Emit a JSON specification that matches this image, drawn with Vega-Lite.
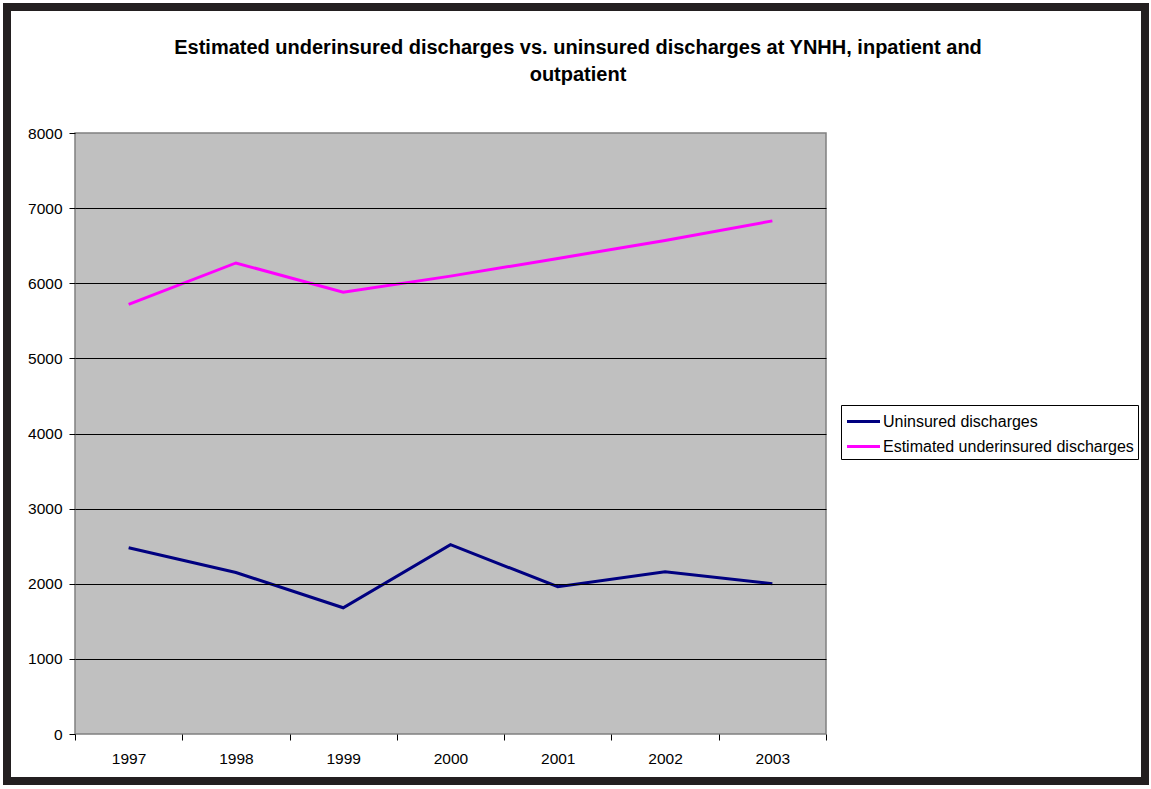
{
  "$schema": "https://vega.github.io/schema/vega-lite/v6.json",
  "width": 1138,
  "height": 774,
  "autosize": "none",
  "padding": {"left": 7, "top": 7, "right": 6, "bottom": 8},
  "background": "white",
  "title": {
    "text": ["Estimated underinsured discharges vs. uninsured discharges at YNHH, inpatient and", "outpatient"],
    "font": "Liberation Sans",
    "fontSize": 20,
    "fontWeight": "bold",
    "color": "black",
    "anchor": "middle",
    "frame": "group",
    "dx": 2,
    "dy": 82,
    "lineHeight": 27
  },
  "layer": [
    {
      "data": {"values": [{"plot": "area"}]},
      "mark": {"type": "rect", "fill": "#C0C0C0", "stroke": "#808080", "strokeWidth": 1.5},
      "encoding": {
        "x": {"datum": 1996.5, "type": "quantitative"},
        "x2": {"datum": 2003.5},
        "y": {"datum": 0, "type": "quantitative"},
        "y2": {"datum": 8000}
      }
    },
    {
      "data": {
        "values": [
          {"year": 1997, "series": "Uninsured discharges", "value": 2480},
          {"year": 1998, "series": "Uninsured discharges", "value": 2150},
          {"year": 1999, "series": "Uninsured discharges", "value": 1680},
          {"year": 2000, "series": "Uninsured discharges", "value": 2520},
          {"year": 2001, "series": "Uninsured discharges", "value": 1960},
          {"year": 2002, "series": "Uninsured discharges", "value": 2160},
          {"year": 2003, "series": "Uninsured discharges", "value": 2000},
          {"year": 1997, "series": "Estimated underinsured discharges", "value": 5720},
          {"year": 1998, "series": "Estimated underinsured discharges", "value": 6270},
          {"year": 1999, "series": "Estimated underinsured discharges", "value": 5880},
          {"year": 2000, "series": "Estimated underinsured discharges", "value": 6095},
          {"year": 2001, "series": "Estimated underinsured discharges", "value": 6330},
          {"year": 2002, "series": "Estimated underinsured discharges", "value": 6570},
          {"year": 2003, "series": "Estimated underinsured discharges", "value": 6830}
        ]
      },
      "mark": {"type": "line", "strokeWidth": 3},
      "encoding": {
        "x": {"field": "year", "type": "quantitative"},
        "y": {"field": "value", "type": "quantitative"},
        "color": {
          "field": "series",
          "type": "nominal",
          "scale": {
            "domain": ["Uninsured discharges", "Estimated underinsured discharges"],
            "range": ["#000080", "#FF00FF"]
          },
          "legend": {
            "title": null,
            "orient": "none",
            "legendX": 834,
            "legendY": 398,
            "symbolType": "M-1.5,0H1.5",
            "symbolSize": 484,
            "symbolStrokeWidth": 3,
            "symbolOffset": 6,
            "labelFontSize": 16,
            "labelColor": "black",
            "labelOffset": 7,
            "labelLimit": 400,
            "padding": 4,
            "rowPadding": 4,
            "strokeColor": "black",
            "fillColor": "white"
          }
        }
      }
    }
  ],
  "encoding": {
    "x": {
      "type": "quantitative",
      "scale": {"domain": [1996.5, 2003.5], "range": [68, 819], "nice": false, "zero": false},
      "axis": {
        "title": null,
        "values": [1996.5, 1997.5, 1998.5, 1999.5, 2000.5, 2001.5, 2002.5, 2003.5],
        "labelExpr": "datum.value < 2003 ? format(datum.value + 0.5, 'd') : ''",
        "labelOffset": 53.6,
        "labelFlush": false,
        "labelOverlap": false,
        "offset": -47,
        "zindex": 1,
        "domain": false,
        "grid": false,
        "tickSize": 6,
        "tickColor": "black",
        "labelPadding": 11,
        "labelFontSize": 15.5,
        "labelColor": "black"
      }
    },
    "y": {
      "type": "quantitative",
      "scale": {"domain": [0, 8000], "range": [727, 126], "nice": false, "zero": false},
      "axis": {
        "title": null,
        "values": [0, 1000, 2000, 3000, 4000, 5000, 6000, 7000, 8000],
        "format": "d",
        "offset": -68,
        "zindex": 1,
        "domain": false,
        "tickSize": 6,
        "tickColor": "black",
        "labelPadding": 7,
        "labelFontSize": 15.5,
        "labelColor": "black",
        "grid": true,
        "gridColor": "black",
        "gridWidth": 1,
        "gridOpacity": {"condition": {"test": "datum.value === 0 || datum.value === 8000", "value": 0}, "value": 1}
      }
    }
  },
  "config": {
    "font": "Liberation Sans",
    "view": {"fill": "white", "stroke": "#231f20", "strokeWidth": 8}
  }
}
